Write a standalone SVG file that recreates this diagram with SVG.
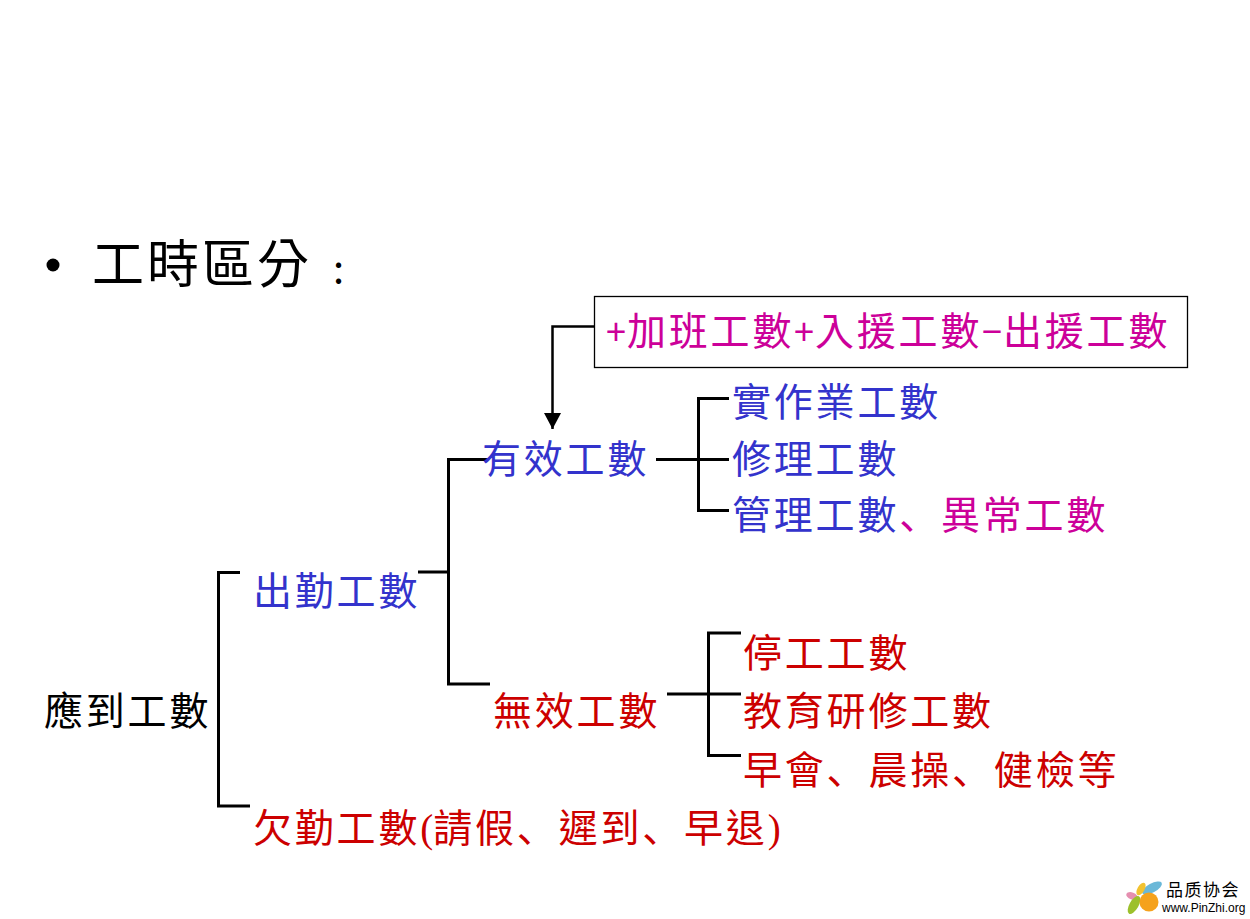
<svg xmlns="http://www.w3.org/2000/svg" width="1250" height="919" viewBox="0 0 1250 919">
<defs>
<style>
text{font-family:"Noto Sans CJK TC","Noto Sans CJK SC",sans-serif;font-size:39px;letter-spacing:2.800px;font-weight:400}
.b{fill:#3333cc}.r{fill:#cc0000}.m{fill:#cc0099}.k{fill:#000}
.l{fill:none;stroke:#000;stroke-width:3}
.s{font-family:"Liberation Serif",serif;letter-spacing:0}
.c{font-family:"Noto Sans CJK SC",sans-serif}
.p{font-size:36px;letter-spacing:0}
</style>
<marker id="a" markerWidth="17" markerHeight="17" refX="16" refY="8.500" orient="auto" markerUnits="userSpaceOnUse"><path d="M0 0L16 8.500L0 17Z" fill="#000"/></marker>
</defs>
<rect width="1250" height="919" fill="#fff"/>
<g id="title"><circle cx="53" cy="265" r="6.500" fill="#000"/><text x="92" y="283" class="k" style="font-size:52px;letter-spacing:3px">工時區分</text><text x="333" y="283" class="k" style="font-size:40px">:</text></g>
<g id="connectors">
<path class="l" d="M595 326.500H552.500V429" marker-end="url(#a)" style="stroke-width:2.500"/>
<path class="l" d="M240 572.500H218.500V806H250"/>
<path class="l" d="M418 572H448.500M488 459.500H448.500V684H490"/>
<path class="l" d="M656 459.500H729M729 398.500H698.500V510.500H729"/>
<path class="l" d="M667 694H741M741 633H708.500V755.500H741"/>
</g>
<g id="n-box"><rect x="594.500" y="296.500" width="593" height="71" fill="#fff" stroke="#000" stroke-width="1.300"/><text y="345" class="m"><tspan x="606" class="p">+</tspan><tspan x="627">加班工數</tspan><tspan x="794" class="p">+</tspan><tspan x="815">入援工數</tspan><tspan x="982" class="p">−</tspan><tspan x="1003">出援工數</tspan></text></g>
<g id="n-actual"><text x="732" y="416" class="b">實作業工數</text></g>
<g id="n-valid"><text x="482" y="473" class="b">有效工數</text></g>
<g id="n-repair"><text x="732" y="473" class="b">修理工數</text></g>
<g id="n-manage"><text x="732" y="529" class="b">管理工數<tspan class="m c">、</tspan><tspan class="m">異常工數</tspan></text></g>
<g id="n-attend"><text x="253" y="605" class="b">出勤工數</text></g>
<g id="n-stop"><text x="743" y="667" class="r">停工工數</text></g>
<g id="n-invalid"><text x="493" y="725" class="r">無效工數</text></g>
<g id="n-root"><text x="44" y="725" class="k">應到工數</text></g>
<g id="n-train"><text x="743" y="725" class="r">教育研修工數</text></g>
<g id="n-morning"><text x="743" y="784" class="r">早會<tspan class="c">、</tspan>晨操<tspan class="c">、</tspan>健檢等</text></g>
<g id="n-absent"><text x="253" y="842" class="r">欠勤工數<tspan class="s">(</tspan>請假<tspan class="c">、</tspan>遲到<tspan class="c">、</tspan>早退<tspan class="s">)</tspan></text></g>
<g id="logo">
<ellipse cx="1152" cy="888" rx="11" ry="4.500" transform="rotate(-28 1152 888)" fill="#6bb8d8"/>
<ellipse cx="1141" cy="889" rx="3.500" ry="7" transform="rotate(30 1141 889)" fill="#f2c230"/>
<ellipse cx="1132" cy="896" rx="6" ry="3.500" transform="rotate(20 1132 896)" fill="#e58fb0"/>
<ellipse cx="1134" cy="905" rx="10" ry="4.500" transform="rotate(-60 1134 905)" fill="#9cc02c"/>
<circle cx="1149" cy="902" r="9.500" fill="#f5a21c"/>
<text x="1166" y="896" style="font-size:17px;letter-spacing:1.500px" class="k">品质协会</text>
<text x="1162" y="912" style="font-family:'Liberation Sans',sans-serif;font-size:12px;letter-spacing:0" class="k">www.PinZhi.org</text>
</g>
</svg>
